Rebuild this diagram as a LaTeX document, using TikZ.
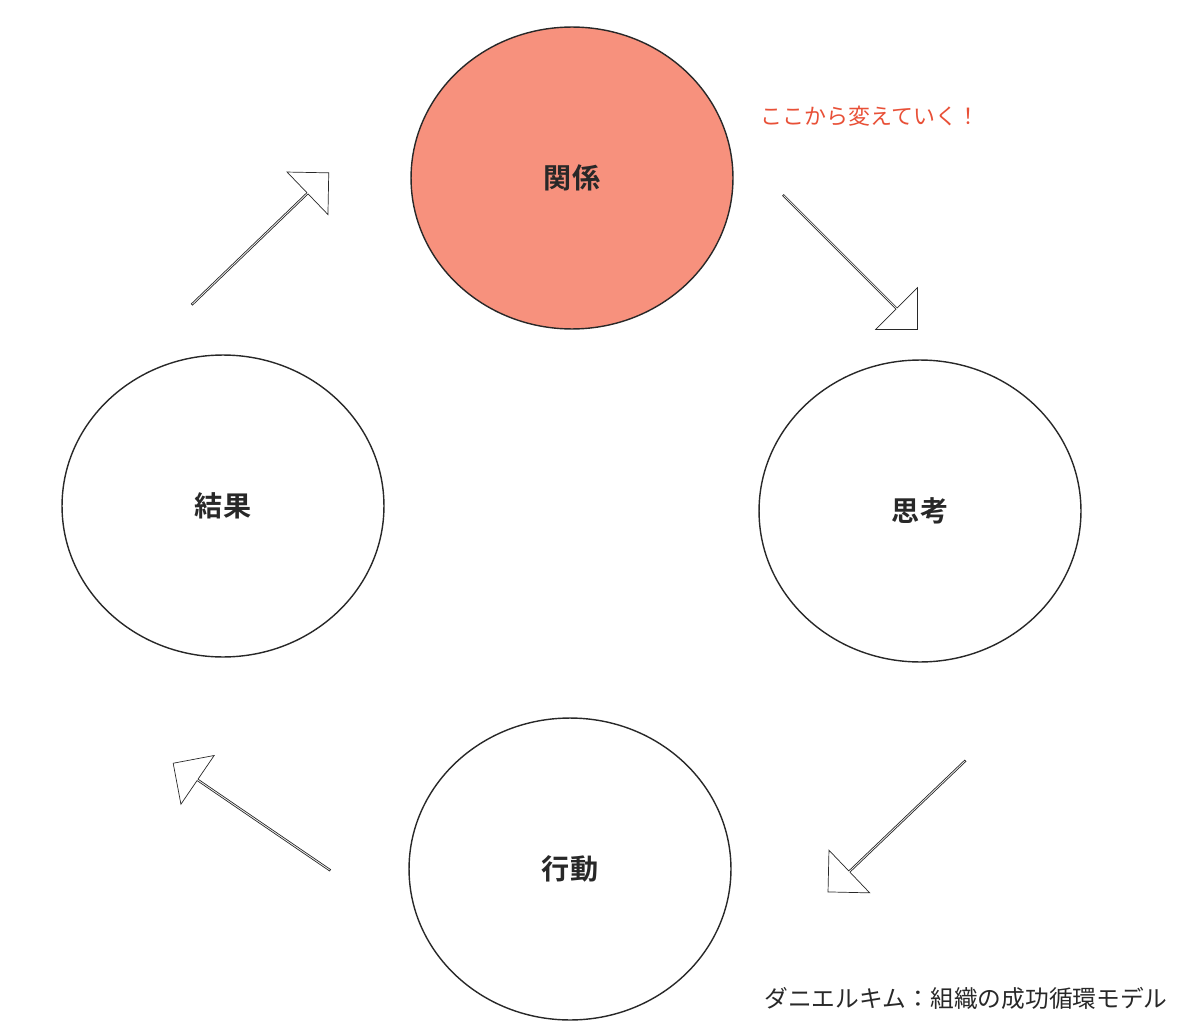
\documentclass[tikz,border=0pt]{standalone}
\usepackage{fontspec}
\newfontfamily\jp{Noto Sans CJK JP}
\newfontfamily\jpb{Noto Sans CJK JP Bold}
\usetikzlibrary{shapes.geometric,shapes.arrows}
\definecolor{salmon}{RGB}{247,145,125}
\definecolor{note}{RGB}{232,80,55}
\definecolor{ink}{RGB}{40,40,40}
\tikzset{
  stage/.style={ellipse,draw=ink,thick,minimum width=6.44cm,minimum height=6.04cm,
    font=\jpb\fontsize{16}{18}\selectfont,text=ink},
  flow/.style={single arrow,draw=ink,fill=white,minimum height=3.8cm,minimum width=1.18cm,
    single arrow head extend=0.23cm,single arrow tip angle=90,inner sep=0pt,rotate=#1}
}
\begin{document}
\begin{tikzpicture}[x=0.02cm,y=-0.02cm]
  \useasboundingbox (0,0) rectangle (1200,1027);

  \node[stage,fill=salmon] (rel) at (572,178) {関係};
  \node[stage] (thk) at (920,511) {思考};
  \node[stage] (act) at (570,869) {行動};
  \node[stage] (res) at (223,506) {結果};

  \node[flow=-45] (a1) at (850,262) {};
  \node[flow=-136.3] (a2) at (897,826) {};
  \node[flow=145.7] (a3) at (252,817) {};
  \node[flow=43.9] (a4) at (260,239) {};

  \node[text=note,font=\jp\fontsize{12.5}{14}\selectfont] (note) at (870,116) {ここから変えていく！};
  \node[text=ink,font=\jp\fontsize{13.5}{15}\selectfont] (cap) at (966,998) {ダニエルキム：組織の成功循環モデル};
\end{tikzpicture}
\end{document}
